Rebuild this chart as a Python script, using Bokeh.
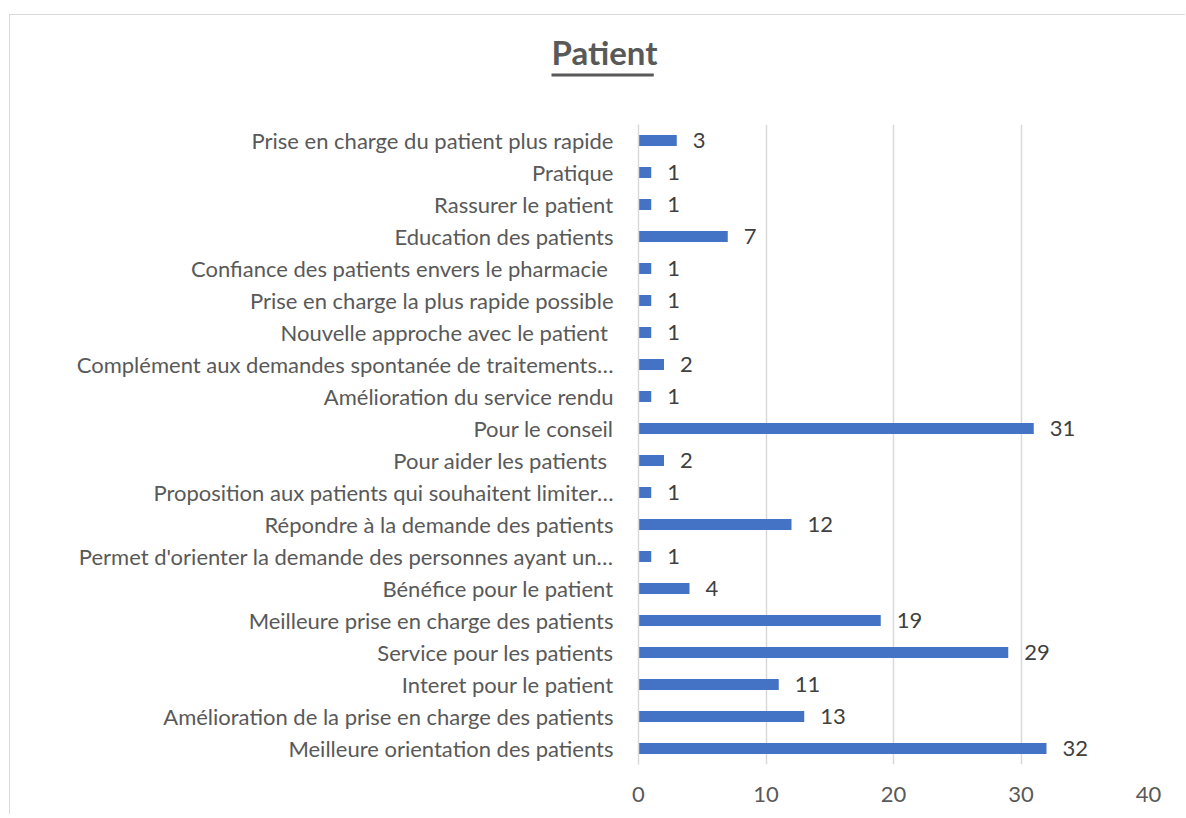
from bokeh.plotting import figure
from bokeh.models import (ColumnDataSource, FactorRange, Range1d, FixedTicker,
                          LabelSet, Title)
from bokeh.core.properties import value
from bokeh.embed import file_html
from bokeh.resources import INLINE

# categories listed bottom to top
categories = [
    "Meilleure orientation des patients",
    "Amélioration de la prise en charge des patients",
    "Interet pour le patient",
    "Service pour les patients",
    "Meilleure prise en charge des patients",
    "Bénéfice pour le patient",
    "Permet d'orienter la demande des personnes ayant un…",
    "Répondre à la demande des patients",
    "Proposition aux patients qui souhaitent limiter…",
    "Pour aider les patients ",
    "Pour le conseil",
    "Amélioration du service rendu",
    "Complément aux demandes spontanée de traitements…",
    "Nouvelle approche avec le patient ",
    "Prise en charge la plus rapide possible",
    "Confiance des patients envers le pharmacie ",
    "Education des patients",
    "Rassurer le patient",
    "Pratique",
    "Prise en charge du patient plus rapide",
]
values = [32, 13, 11, 29, 19, 4, 1, 12, 1, 2, 31, 1, 2, 1, 1, 1, 7, 1, 1, 3]
x_ticks = [0, 10, 20, 30, 40]
title_text = "Patient"

FONT = "Lato"
TXT = "#595959"
FS = "22px"

src = ColumnDataSource(dict(cat=categories, val=values,
                            lbl=[str(v) for v in values]))

W, H = 1176, 800
p = figure(width=W, height=H, output_backend="svg", toolbar_location=None,
           y_range=FactorRange(*categories), x_range=Range1d(0, 40),
           min_border_left=628, min_border_right=38,
           min_border_top=109, min_border_bottom=51,
           title=None)
# chart border: left and top edges (right/bottom are outside the window)
p.styles = {"margin-left": "9px", "margin-top": "14px",
            "border-left": "1px solid #d9d9d9",
            "border-top": "1px solid #d9d9d9"}

p.hbar(y="cat", right="val", left=0, height=0.34, source=src,
       fill_color="#4472C4", line_color=None)

p.add_layout(LabelSet(x="val", y="cat", text="lbl", source=src,
                      x_offset=16, text_baseline="middle", text_align="left",
                      text_font=value(FONT), text_font_size=FS,
                      text_color="#404040"))

# above panel, from the frame outwards: spacer, title underline, title
p.add_layout(Title(text=" ", align="left", offset=-87, standoff=45,
                   text_font_size="1px", text_color="#ffffff",
                   background_fill_color=None, border_line_color=None),
             "above")
p.add_layout(Title(text=" ", align="left", offset=-87, standoff=0,
                   text_font_size="1px", padding=(51, 1),
                   background_fill_color=TXT, background_fill_alpha=1,
                   border_line_color=None), "above")
p.add_layout(Title(text=title_text, align="left", offset=-87, standoff=0,
                   text_font=FONT, text_font_size="33px",
                   text_font_style="bold", text_color=TXT), "above")

p.outline_line_color = None
p.ygrid.grid_line_color = None
p.xgrid.grid_line_color = "#d9d9d9"
p.xgrid.grid_line_width = 1.5
p.xaxis.ticker = FixedTicker(ticks=x_ticks)

p.xaxis.axis_line_color = None
p.xaxis.major_tick_line_color = None
p.xaxis.minor_tick_line_color = None
p.xaxis.major_tick_out = 0
p.xaxis.major_label_standoff = 22
p.xaxis.major_label_text_font = FONT
p.xaxis.major_label_text_font_size = FS
p.xaxis.major_label_text_color = TXT

p.yaxis.axis_line_color = "#d9d9d9"
p.yaxis.axis_line_width = 1.5
p.yaxis.major_tick_line_color = None
p.yaxis.minor_tick_line_color = None
p.yaxis.major_tick_out = 0
p.yaxis.major_label_standoff = 25
p.yaxis.major_label_text_font = FONT
p.yaxis.major_label_text_font_size = FS
p.yaxis.major_label_text_color = TXT

open("out.html", "w").write(file_html(p, INLINE))
